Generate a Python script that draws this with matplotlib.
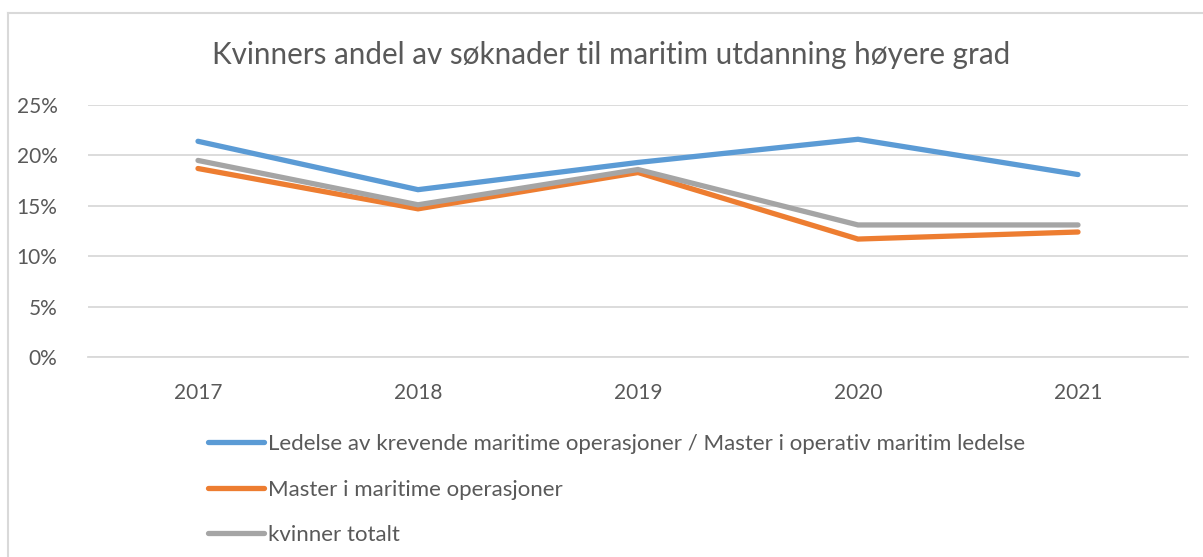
import matplotlib.pyplot as plt
import matplotlib as mpl
from matplotlib.lines import Line2D
from matplotlib.ticker import PercentFormatter

mpl.rcParams['font.family'] = ['Lato', 'DejaVu Sans']

years = ["2017", "2018", "2019", "2020", "2021"]
ledelse = [0.214, 0.166, 0.193, 0.216, 0.181]
master = [0.187, 0.147, 0.183, 0.117, 0.124]
totalt = [0.195, 0.151, 0.186, 0.131, 0.131]

series = [
    dict(values=ledelse, label="Ledelse av krevende maritime operasjoner / Master i operativ maritim ledelse", color="#5B9BD5"),
    dict(values=master, label="Master i maritime operasjoner", color="#ED7D31"),
    dict(values=totalt, label="kvinner totalt", color="#A5A5A5"),
]

text_color = "#595959"
grid_color = "#D9D9D9"

fig = plt.figure(figsize=(12.03, 5.57), dpi=100)
ax = fig.add_axes([88 / 1203, 1 - 357 / 557, 1100 / 1203, 252 / 557])

x = range(len(years))
handles = []
for i, s in enumerate(series):
    h, = ax.plot(x, s["values"], lw=3.8, color=s["color"], label=s["label"],
                 solid_capstyle="round", solid_joinstyle="miter", zorder=10 - i)
    handles.append(h)
# grey drawn above orange, under blue as in the reference
handles[2].set_zorder(9.5)

ax.set_xlim(-0.5, 4.5)
ax.set_ylim(0, 0.25)
ax.set_xticks(list(x), years)
ax.set_yticks([0, 0.05, 0.10, 0.15, 0.20, 0.25])
ax.yaxis.set_major_formatter(PercentFormatter(1.0, decimals=0))
ax.grid(axis="y", color=grid_color, lw=1.3)
ax.set_axisbelow(True)
for sp in ax.spines.values():
    sp.set_visible(False)
ax.spines["bottom"].set_visible(True)
ax.spines["bottom"].set_color(grid_color)
ax.spines["bottom"].set_linewidth(1.3)
ax.tick_params(length=0, labelsize=15, colors=text_color)
ax.tick_params(axis="x", pad=19)
ax.tick_params(axis="y", pad=22)

fig.text(611 / 1203, 1 - 55 / 557, "Kvinners andel av søknader til maritim utdanning høyere grad",
         ha="center", va="center", fontsize=21.3, color=text_color)

leg = fig.legend(handles=handles, loc="upper left", bbox_to_anchor=(188 / 1203, 1 - 414 / 557),
                 frameon=False, handlelength=2.5, handletextpad=0.2, labelspacing=1.15,
                 fontsize=16, labelcolor=text_color)

# chart frame (left and top edges visible in the crop)
fig.add_artist(Line2D([7.5 / 1203, 7.5 / 1203], [0, 1 - 13 / 557], color=grid_color, lw=1.5))
fig.add_artist(Line2D([7.5 / 1203, 1], [1 - 13 / 557, 1 - 13 / 557], color=grid_color, lw=1.5))

fig.savefig("out.png", dpi=100)
